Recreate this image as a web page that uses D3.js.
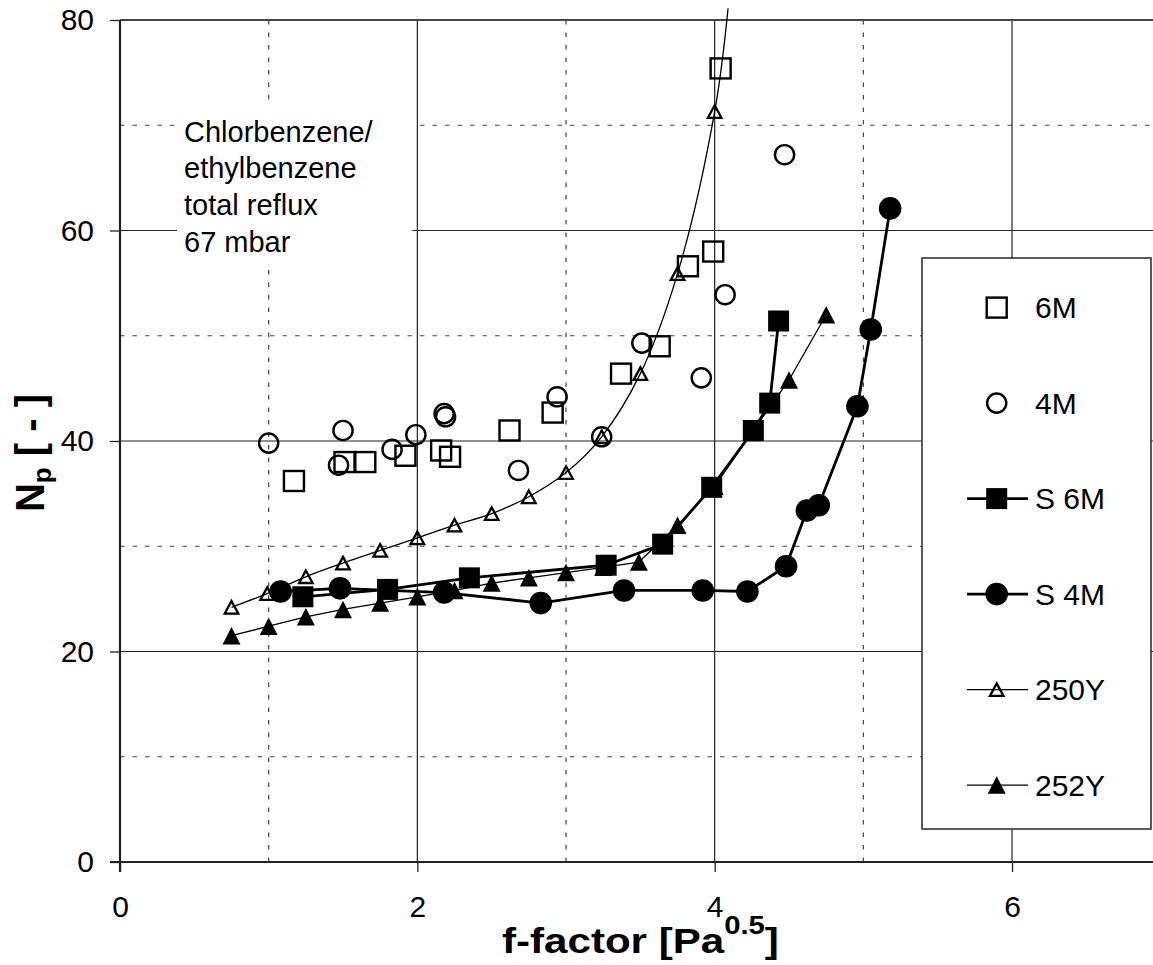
<!DOCTYPE html>
<html>
<head>
<meta charset="utf-8">
<script src="https://cdn.jsdelivr.net/npm/d3@7"></script>
<style>
  html, body { margin: 0; padding: 0; background: #fff; }
  svg { display: block; font-family: "Liberation Sans", Arial, sans-serif; }
</style>
</head>
<body>
<svg id="chart" width="1153" height="965"></svg>
<script>
// ---------------- data ----------------
const seriesNames = ["6M", "4M", "S 6M", "S 4M", "250Y", "252Y"];

const s6M_x = [1.17, 1.51, 1.65, 1.92, 2.16, 2.22, 2.62, 2.91, 3.37, 3.63, 3.82, 3.99, 4.04];
const s6M_y = [36.2, 38.0, 38.0, 38.6, 39.1, 38.5, 41.0, 42.7, 46.4, 49.0, 56.6, 58.0, 75.4];

const s4M_x = [1.00, 1.47, 1.50, 1.83, 1.99, 2.18, 2.19, 2.68, 2.94, 3.24, 3.51, 3.91, 4.07, 4.47];
const s4M_y = [39.8, 37.7, 41.0, 39.2, 40.6, 42.6, 42.3, 37.2, 44.2, 40.4, 49.3, 46.0, 53.9, 67.2];

const sS6M_x = [1.23, 1.80, 2.35, 3.27, 3.65, 3.98, 4.26, 4.37, 4.43];
const sS6M_y = [25.2, 25.9, 27.0, 28.2, 30.2, 35.6, 41.0, 43.6, 51.4];

const sS4M_x = [1.08, 1.48, 2.18, 2.83, 3.39, 3.92, 4.22, 4.48, 4.62, 4.70, 4.96, 5.05, 5.18];
const sS4M_y = [25.7, 26.0, 25.6, 24.6, 25.8, 25.8, 25.7, 28.1, 33.4, 33.9, 43.3, 50.6, 62.1];

const s250Y_x = [0.75, 0.99, 1.25, 1.50, 1.75, 2.00, 2.25, 2.50, 2.75, 3.00, 3.24, 3.50, 3.75, 4.00];
const s250Y_y = [24.2, 25.5, 27.1, 28.4, 29.6, 30.8, 32.0, 33.1, 34.7, 37.0, 40.4, 46.4, 55.9, 71.3];
// the smoothed 250Y trend line runs on past the last marker, out of the frame
const s250Y_lineEnd = [4.09, 81.1];

const s252Y_x = [0.75, 1.00, 1.25, 1.50, 1.75, 2.00, 2.25, 2.50, 2.75, 3.00, 3.25, 3.49, 3.75, 4.00, 4.25, 4.50, 4.75];
const s252Y_y = [21.5, 22.4, 23.3, 24.0, 24.6, 25.2, 25.8, 26.5, 27.0, 27.5, 28.0, 28.5, 32.0, 35.7, 40.8, 45.8, 52.0];

const xMajorTicks = [0, 2, 4, 6];
const xMinorTicks = [1, 3, 5];
const yMajorTicks = [0, 20, 40, 60, 80];
const yMinorTicks = [10, 30, 50, 70];

const annotationLines = ["Chlorbenzene/", "ethylbenzene", "total reflux", "67 mbar"];

// ---------------- layout ----------------
const svg = d3.select("#chart");
const W = 1153, H = 965;
const x = d3.scaleLinear().domain([0, 7]).range([120, 1160.7]);
const y = d3.scaleLinear().domain([0, 80]).range([862, 20]);
const pts = (xs, ys) => xs.map((v, i) => [v, ys[i]]);

// ---------------- gridlines ----------------
const grid = svg.append("g");
grid.selectAll("line.vminor").data(xMinorTicks).join("line")
  .attr("x1", d => x(d)).attr("x2", d => x(d)).attr("y1", y(80)).attr("y2", y(0))
  .attr("stroke", "#444").attr("stroke-width", 1.2).attr("stroke-dasharray", "4.5,8");
grid.selectAll("line.hminor").data(yMinorTicks).join("line")
  .attr("x1", x(0)).attr("x2", W).attr("y1", d => y(d)).attr("y2", d => y(d))
  .attr("stroke", "#444").attr("stroke-width", 1.2).attr("stroke-dasharray", "4.5,8");
grid.selectAll("line.vmajor").data(xMajorTicks.filter(d => d > 0)).join("line")
  .attr("x1", d => x(d)).attr("x2", d => x(d)).attr("y1", y(80)).attr("y2", y(0))
  .attr("stroke", "#222").attr("stroke-width", 1.2);
grid.selectAll("line.hmajor").data(yMajorTicks.filter(d => d > 0 && d < 80)).join("line")
  .attr("x1", x(0)).attr("x2", W).attr("y1", d => y(d)).attr("y2", d => y(d))
  .attr("stroke", "#222").attr("stroke-width", 1.2);

// top frame
svg.append("line").attr("x1", x(0)).attr("x2", W).attr("y1", y(80)).attr("y2", y(80))
  .attr("stroke", "#444").attr("stroke-width", 2);

// ---------------- axes ----------------
const xAxis = svg.append("g").attr("transform", `translate(0,${y(0)})`)
  .call(d3.axisBottom(x).tickValues(xMajorTicks).tickSize(10).tickPadding(24).tickFormat(d3.format("d")));
const yAxis = svg.append("g").attr("transform", `translate(${x(0)},0)`)
  .call(d3.axisLeft(y).tickValues(yMajorTicks).tickSize(10).tickPadding(16).tickFormat(d3.format("d")));
[xAxis, yAxis].forEach(a => {
  a.select(".domain").remove();
  a.selectAll(".tick line").attr("stroke", "#222").attr("stroke-width", 1.3);
  a.selectAll(".tick text").attr("font-size", 30).attr("fill", "#000")
    .attr("font-family", "Liberation Sans, Arial, sans-serif");
});
svg.append("line").attr("x1", x(0) - 10).attr("x2", W).attr("y1", y(0)).attr("y2", y(0))
  .attr("stroke", "#222").attr("stroke-width", 2.2);
svg.append("line").attr("x1", x(0)).attr("x2", x(0)).attr("y1", y(80)).attr("y2", y(0) + 10)
  .attr("stroke", "#222").attr("stroke-width", 2.2);

// ---------------- axis titles ----------------
const xt = svg.append("g").attr("transform", "translate(502,953) scale(1.17,1)")
  .append("text").attr("x", 0).attr("y", 0).attr("text-anchor", "start")
  .attr("font-size", 36).attr("font-weight", "bold").attr("fill", "#000");
xt.append("tspan").text("f-factor [Pa");
xt.append("tspan").attr("font-size", 25).attr("dy", -19).text("0.5");
xt.append("tspan").attr("dy", 19).text("]");

const yt = svg.append("text").attr("transform", "translate(44,453) rotate(-90)")
  .attr("text-anchor", "middle").attr("font-size", 40).attr("font-weight", "bold").attr("fill", "#000");
yt.append("tspan").text("N");
yt.append("tspan").attr("font-size", 26).attr("dy", 7).text("p");
yt.append("tspan").attr("dy", -7).text(" [ - ]");

// ---------------- annotation ----------------
const ann = svg.append("g");
const annBg = ann.append("rect").attr("fill", "#fff");
const annText = ann.append("text").attr("font-size", 29).attr("fill", "#000");
annotationLines.forEach((t, i) => {
  annText.append("tspan").attr("x", 184).attr("y", 141.6 + i * 36.7).text(t);
});
const bb = annText.node().getBBox();
annBg.attr("x", bb.x - 7).attr("y", bb.y - 16)
  .attr("width", x(2) - 5 - (bb.x - 7)).attr("height", bb.height + 26);

// ---------------- markers ----------------
function marker(g, type, cx, cy) {
  switch (type) {
    case "openSquare":
      g.append("rect").attr("x", cx - 10).attr("y", cy - 10).attr("width", 20).attr("height", 20)
        .attr("fill", "none").attr("stroke", "#000").attr("stroke-width", 2.4);
      break;
    case "openCircle":
      g.append("circle").attr("cx", cx).attr("cy", cy).attr("r", 9.6)
        .attr("fill", "none").attr("stroke", "#000").attr("stroke-width", 2.4);
      break;
    case "filledSquare":
      g.append("rect").attr("x", cx - 10.5).attr("y", cy - 10.5).attr("width", 21).attr("height", 21)
        .attr("fill", "#000");
      break;
    case "filledCircle":
      g.append("circle").attr("cx", cx).attr("cy", cy).attr("r", 11.3).attr("fill", "#000");
      break;
    case "openTriangle": {
      const w = 13.5, h = 12.5;
      g.append("path").attr("d", `M${cx},${cy - h / 2}L${cx + w / 2},${cy + h / 2}L${cx - w / 2},${cy + h / 2}Z`)
        .attr("fill", "none").attr("stroke", "#000").attr("stroke-width", 2.3).attr("stroke-linejoin", "miter");
      break;
    }
    case "filledTriangle": {
      const w = 18, h = 17.5;
      g.append("path").attr("d", `M${cx},${cy - h / 2}L${cx + w / 2},${cy + h / 2}L${cx - w / 2},${cy + h / 2}Z`)
        .attr("fill", "#000");
      break;
    }
  }
}

const straight = d3.line().x(d => x(d[0])).y(d => y(d[1]));
const smooth = d3.line().x(d => x(d[0])).y(d => y(d[1])).curve(d3.curveCatmullRom.alpha(0.5));

const series = [
  { name: seriesNames[0], data: pts(s6M_x, s6M_y), marker: "openSquare", line: null },
  { name: seriesNames[1], data: pts(s4M_x, s4M_y), marker: "openCircle", line: null },
  { name: seriesNames[4], data: pts(s250Y_x, s250Y_y), marker: "openTriangle", line: "thinSmooth",
    lineData: pts(s250Y_x, s250Y_y).concat([s250Y_lineEnd]) },
  { name: seriesNames[5], data: pts(s252Y_x, s252Y_y), marker: "filledTriangle", line: "thin" },
  { name: seriesNames[2], data: pts(sS6M_x, sS6M_y), marker: "filledSquare", line: "thick" },
  { name: seriesNames[3], data: pts(sS4M_x, sS4M_y), marker: "filledCircle", line: "thick" },
];

const plot = svg.append("g");
series.forEach(s => {
  const g = plot.append("g");
  if (s.line === "thick") {
    g.append("path").attr("d", straight(s.data)).attr("fill", "none").attr("stroke", "#000").attr("stroke-width", 2.8);
  } else if (s.line === "thin") {
    g.append("path").attr("d", straight(s.data)).attr("fill", "none").attr("stroke", "#000").attr("stroke-width", 1.3);
  } else if (s.line === "thinSmooth") {
    g.append("path").attr("d", smooth(s.lineData)).attr("fill", "none").attr("stroke", "#000").attr("stroke-width", 1.3);
  }
  s.data.forEach(d => marker(g, s.marker, x(d[0]), y(d[1])));
});

// ---------------- legend ----------------
const legend = svg.append("g");
legend.append("rect").attr("x", 922).attr("y", 258).attr("width", 229).attr("height", 571)
  .attr("fill", "#fff").attr("stroke", "#333").attr("stroke-width", 1.6);
const legendItems = [
  { name: seriesNames[0], marker: "openSquare", line: null },
  { name: seriesNames[1], marker: "openCircle", line: null },
  { name: seriesNames[2], marker: "filledSquare", line: 2.8 },
  { name: seriesNames[3], marker: "filledCircle", line: 2.8 },
  { name: seriesNames[4], marker: "openTriangle", line: 1.3 },
  { name: seriesNames[5], marker: "filledTriangle", line: 1.3 },
];
legendItems.forEach((it, i) => {
  const cy = 307.6 + i * 95.5;
  const g = legend.append("g");
  if (it.line) {
    g.append("line").attr("x1", 967).attr("x2", 1028).attr("y1", cy).attr("y2", cy)
      .attr("stroke", "#000").attr("stroke-width", it.line);
  }
  marker(g, it.marker, 996.7, cy);
  g.append("text").attr("x", 1035).attr("y", cy).attr("dy", "0.36em")
    .attr("font-size", 30).attr("fill", "#000").text(it.name);
});
</script>
</body>
</html>
